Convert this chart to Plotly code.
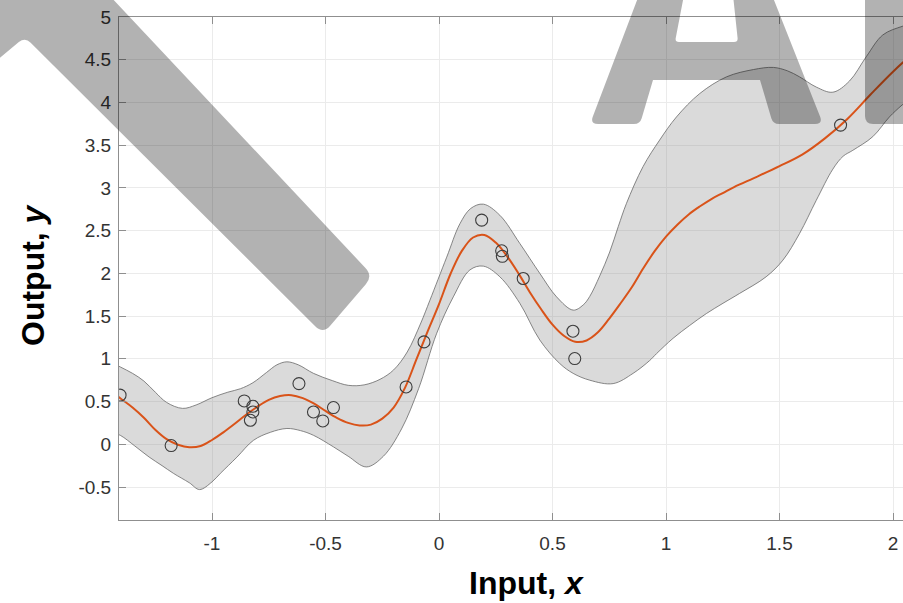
import plotly.graph_objects as go

# ---------------- data ----------------
obs_x = [-1.405, -1.18, -0.858, -0.82, -0.82, -0.831, -0.617, -0.553, -0.512, -0.465,
         -0.145, -0.066, 0.188, 0.276, 0.279, 0.371, 0.59, 0.598, 1.769]
obs_y = [0.575, -0.015, 0.507, 0.445, 0.378, 0.281, 0.71, 0.378, 0.273, 0.43,
         0.671, 1.198, 2.623, 2.264, 2.20, 1.94, 1.323, 1.003, 3.735]

mean_x = [-1.45, -1.40, -1.35, -1.30, -1.25, -1.20, -1.15, -1.10, -1.05, -1.00, -0.95,
          -0.90, -0.85, -0.80, -0.75, -0.70, -0.65, -0.60, -0.55, -0.50, -0.45, -0.40,
          -0.35, -0.30, -0.25, -0.20, -0.15, -0.10, -0.05, 0.00, 0.05, 0.10, 0.15, 0.20,
          0.25, 0.30, 0.35, 0.40, 0.45, 0.50, 0.55, 0.60, 0.65, 0.70, 0.75, 0.80, 0.85,
          0.90, 0.95, 1.00, 1.05, 1.10, 1.15, 1.20, 1.25, 1.30, 1.40, 1.50, 1.60, 1.70,
          1.80, 1.90, 2.00, 2.10]
mean_y = [0.63, 0.53, 0.43, 0.31, 0.17, 0.06, -0.005, -0.035, -0.02, 0.05, 0.14,
          0.24, 0.345, 0.44, 0.52, 0.565, 0.575, 0.54, 0.475, 0.39, 0.31, 0.25,
          0.22, 0.23, 0.30, 0.43, 0.66, 0.99, 1.32, 1.64, 1.99, 2.26, 2.42, 2.45,
          2.36, 2.20, 2.00, 1.78, 1.58, 1.40, 1.27, 1.20, 1.215, 1.31, 1.47, 1.65, 1.84,
          2.06, 2.26, 2.43, 2.57, 2.69, 2.785, 2.87, 2.94, 3.01, 3.13, 3.255, 3.39, 3.58,
          3.81, 4.09, 4.36, 4.60]

upper_x = [-1.45, -1.404, -1.35, -1.30, -1.25, -1.20, -1.13, -1.07, -1.00, -0.93, -0.875,
           -0.82, -0.76, -0.714, -0.67, -0.62, -0.553, -0.47, -0.40, -0.33, -0.26, -0.20,
           -0.14, -0.08, -0.04, 0.034, 0.092, 0.14, 0.195, 0.268, 0.356, 0.444, 0.518,
           0.591, 0.635, 0.664, 0.708, 0.752, 0.79, 0.826, 0.899, 0.972, 1.046, 1.149,
           1.267, 1.385, 1.473, 1.535, 1.588, 1.662, 1.735, 1.808, 1.882, 1.955, 2.04, 2.1]
upper_y = [0.97, 0.905, 0.83, 0.74, 0.61, 0.49, 0.42, 0.46, 0.545, 0.61, 0.65,
           0.72, 0.84, 0.93, 0.965, 0.93, 0.83, 0.745, 0.69, 0.695, 0.76, 0.87,
           1.08, 1.42, 1.686, 2.19, 2.58, 2.76, 2.81, 2.68, 2.35, 2.00, 1.725,
           1.57, 1.63, 1.73, 1.97, 2.25, 2.55, 2.82, 3.25, 3.56, 3.83, 4.105,
           4.30, 4.385, 4.41, 4.37, 4.30, 4.18, 4.12, 4.25, 4.535, 4.79, 4.89, 4.93]

lower_x = [-1.45, -1.404, -1.34, -1.277, -1.22, -1.17, -1.10, -1.055, -1.00, -0.963,
           -0.89, -0.817, -0.743, -0.67, -0.61, -0.553, -0.465, -0.40, -0.32, -0.245,
           -0.165, -0.09, -0.01, 0.063, 0.136, 0.195, 0.268, 0.356, 0.444, 0.532, 0.591,
           0.664, 0.767, 0.855, 0.928, 0.958, 1.031, 1.104, 1.178, 1.251, 1.324, 1.441,
           1.515, 1.588, 1.662, 1.735, 1.78, 1.823, 1.911, 1.984, 2.04, 2.1]
lower_y = [0.15, 0.105, -0.02, -0.149, -0.25, -0.34, -0.45, -0.53, -0.44, -0.34,
           -0.15, 0.047, 0.14, 0.185, 0.16, 0.105, -0.03, -0.14, -0.265, -0.14,
           0.18, 0.65, 1.30, 1.725, 2.04, 2.085, 1.96, 1.65, 1.22, 0.945, 0.83,
           0.75, 0.71, 0.83, 0.98, 1.06, 1.24, 1.39, 1.53, 1.65, 1.765, 1.96,
           2.155, 2.465, 2.855, 3.22, 3.37, 3.44, 3.60, 3.83, 3.97, 4.10]

x_tick_vals = [-1, -0.5, 0, 0.5, 1, 1.5, 2]
x_tick_text = ["-1", "-0.5", "0", "0.5", "1", "1.5", "2"]
y_tick_vals = [-0.5, 0, 0.5, 1, 1.5, 2, 2.5, 3, 3.5, 4, 4.5, 5]
y_tick_text = ["-0.5", "0", "0.5", "1", "1.5", "2", "2.5", "3", "3.5", "4", "4.5", "5"]

# ---------------- layout geometry ----------------
W, H = 903, 603
PL, PT, PW, PH = 119, 17, 784, 503


def P(xp, yp):
    return ((xp - PL) / PW, (PT + PH - yp) / PH)


def rounded_path(pts, radii):
    n = len(pts)
    segs = []
    for i in range(n):
        vx, vy = pts[i]
        r = radii[i]
        if r <= 0:
            segs.append(("L", (vx, vy)))
            continue
        px_, py_ = pts[i - 1]
        nx_, ny_ = pts[(i + 1) % n]
        d1 = ((px_ - vx) ** 2 + (py_ - vy) ** 2) ** 0.5
        d2 = ((nx_ - vx) ** 2 + (ny_ - vy) ** 2) ** 0.5
        t1 = min(r / d1, 0.45)
        t2 = min(r / d2, 0.45)
        a = (vx + (px_ - vx) * t1, vy + (py_ - vy) * t1)
        b = (vx + (nx_ - vx) * t2, vy + (ny_ - vy) * t2)
        segs.append(("Q", a, (vx, vy), b))
    out = []
    for k, s in enumerate(segs):
        if s[0] == "L":
            x, y = P(*s[1])
            out.append(("M" if k == 0 else "L") + f"{x:.5f},{y:.5f}")
        else:
            ax, ay = P(*s[1])
            cx, cy = P(*s[2])
            bx, by = P(*s[3])
            out.append(("M" if k == 0 else "L") + f"{ax:.5f},{ay:.5f}")
            out.append(f"Q{cx:.5f},{cy:.5f} {bx:.5f},{by:.5f}")
    return " ".join(out) + " Z"


wm_color = "rgba(0,0,0,0.3)"
bar_pts = [(-5, -5), (109, -5), (373, 276), (323, 334), (25, 37), (-5, 62)]
bar_r = [0, 0, 11, 11, 8, 0]
a_pts = [(639, -5), (590, 124), (640, 124), (653, 80), (760, 80), (773, 124), (823, 124),
         (772, -5), (733, -5), (738, 42), (675, 42), (684, -5)]
a_r = [0, 8, 6, 0, 0, 6, 8, 0, 0, 4, 4, 0]
i_pts = [(865, -5), (865, 124), (915, 124), (915, -5)]
i_r = [0, 8, 0, 0]

shapes = []
for pts, rr in [(bar_pts, bar_r), (a_pts, a_r), (i_pts, i_r)]:
    shapes.append(dict(type="path", xref="paper", yref="paper", path=rounded_path(pts, rr),
                       fillcolor=wm_color, line=dict(width=0), layer="above"))

fig = go.Figure()
fig.add_trace(go.Scatter(
    x=upper_x + lower_x[::-1], y=upper_y + lower_y[::-1],
    mode="lines", fill="toself", fillcolor="rgba(128,128,128,0.29)",
    line=dict(color="#6a6a6a", width=0.8, shape="spline", smoothing=1.0),
    hoverinfo="skip", showlegend=False))
fig.add_trace(go.Scatter(
    x=mean_x, y=mean_y, mode="lines",
    line=dict(color="#d95319", width=2, shape="spline", smoothing=1.0),
    showlegend=False))
fig.add_trace(go.Scatter(
    x=obs_x, y=obs_y, mode="markers",
    marker=dict(symbol="circle-open", size=12, color="#3c3c3c", line=dict(width=1.1)),
    showlegend=False))

axis_common = dict(
    showgrid=True, gridcolor="#ebebeb", gridwidth=1,
    showline=True, linecolor="#8f8f8f", linewidth=1,
    ticks="inside", ticklen=7, tickcolor="#8f8f8f", tickwidth=1,
    zeroline=False,
    tickfont=dict(family="Liberation Sans, Arial, sans-serif", size=19, color="#333333"),
)
fig.update_xaxes(range=[-1.4097, 2.044], tickvals=x_tick_vals, ticktext=x_tick_text,
                 mirror="ticks", ticklabelstandoff=6, **axis_common)
fig.update_yaxes(range=[-0.886, 5.0], tickvals=y_tick_vals, ticktext=y_tick_text,
                 ticklabelstandoff=3, **axis_common)

title_font = dict(family="Liberation Sans, Arial, sans-serif", size=32, color="#000000",
                  weight="bold")
ix, iy = P(526, 583)
ox, oy = P(33, 275)
fig.update_layout(
    width=W, height=H,
    margin=dict(l=PL, r=W - PL - PW, t=PT, b=H - PT - PH),
    paper_bgcolor="white", plot_bgcolor="white",
    shapes=shapes,
    annotations=[
        dict(text="Input, <i>x</i>", xref="paper", yref="paper", x=ix, y=iy,
             xanchor="center", yanchor="middle", showarrow=False, font=title_font),
        dict(text="Output, <i>y</i>", xref="paper", yref="paper", x=ox, y=oy,
             xanchor="center", yanchor="middle", showarrow=False, textangle=-90,
             font=title_font),
    ],
)

fig.write_html("out.html")
